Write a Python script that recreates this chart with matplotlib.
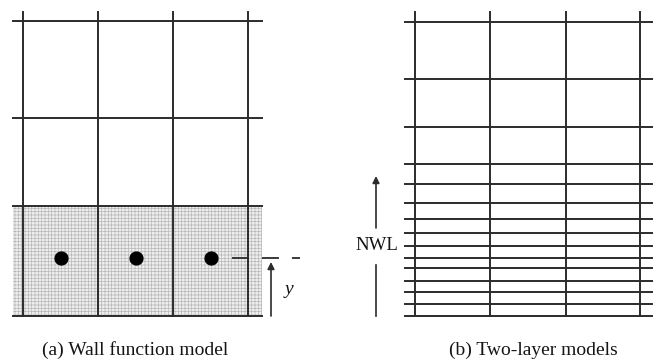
import matplotlib
matplotlib.use('Agg')
import matplotlib.pyplot as plt
from matplotlib.patches import Rectangle

# grid line positions (canvas units, y grows downward)
izq_cols = [23, 98, 173, 248]
izq_filas = [21, 118, 206, 316]
der_cols = [415, 490, 566, 640]
der_filas = [22, 79, 127, 164, 184, 203, 219, 233, 246, 258, 268, 281, 292, 304, 316]
nodo_y = 258
altura_y = 258
titulos = ['(a) Wall function model', '(b) Two-layer models']

color_linea = '#2b2b2b'
color_texto = '#151515'
fuente = 'Liberation Serif'

fig = plt.figure(figsize=(6.53, 3.61), dpi=100)
ax = fig.add_axes([0, 0, 1, 1])
ax.set_xlim(0, 653)
ax.set_ylim(361, 0)
ax.axis('off')

# capa de pared sombreada (fondo gris + trama fina)
plt.rcParams['hatch.linewidth'] = 0.5
alto_capa = izq_filas[-1] - izq_filas[-2]
ax.add_patch(Rectangle((13, izq_filas[-2]), 249, alto_capa,
                       facecolor='#eeeeee', edgecolor='none', zorder=0))
ax.add_patch(Rectangle((13, izq_filas[-2]), 249, alto_capa,
                       facecolor='none', edgecolor='#b8b8b8', lw=0,
                       hatch='+++++', zorder=0.5))

# malla izquierda
for x in izq_cols:
    ax.plot([x, x], [12, izq_filas[-1]], color=color_linea, lw=1.4)
for y in izq_filas:
    ax.plot([13, 262], [y, y], color=color_linea, lw=1.4)

# nodos del primer volumen
centros = [(a + b) / 2 for a, b in zip(izq_cols[:-1], izq_cols[1:])]
ax.scatter(centros, [nodo_y] * len(centros), s=85, color='black', zorder=3)

# distancia y a la pared
ax.plot([232, 300], [altura_y, altura_y], color=color_linea, lw=1.3,
        dashes=(9.4, 7.2))
ax.annotate('', xy=(271, 262), xytext=(271, izq_filas[-1]),
            arrowprops=dict(arrowstyle='-|>', color=color_linea, lw=1.2,
                            mutation_scale=10, shrinkA=0, shrinkB=0))
ax.text(289, 290, 'y', fontsize=14, family=fuente, style='italic',
        ha='center', va='center', color=color_texto)

# malla derecha, refinada hacia la pared
for x in der_cols:
    ax.plot([x, x], [12, der_filas[-1]], color=color_linea, lw=1.4)
for y in der_filas:
    ax.plot([405, 653], [y, y], color=color_linea, lw=1.4)

# NWL
ax.plot([376, 376], [265, der_filas[-1]], color=color_linea, lw=1.2)
ax.annotate('', xy=(376, 176), xytext=(376, 228),
            arrowprops=dict(arrowstyle='-|>', color=color_linea, lw=1.2,
                            mutation_scale=10, shrinkA=0, shrinkB=0))
ax.text(377, 246, 'NWL', fontsize=13.5, family=fuente, ha='center', va='center',
        color=color_texto)

ax.text(135, 350, titulos[0], fontsize=14, family=fuente, ha='center', va='center',
        color=color_texto)
ax.text(533, 350, titulos[1], fontsize=14, family=fuente, ha='center', va='center',
        color=color_texto)

fig.savefig('out.png', dpi=100)
